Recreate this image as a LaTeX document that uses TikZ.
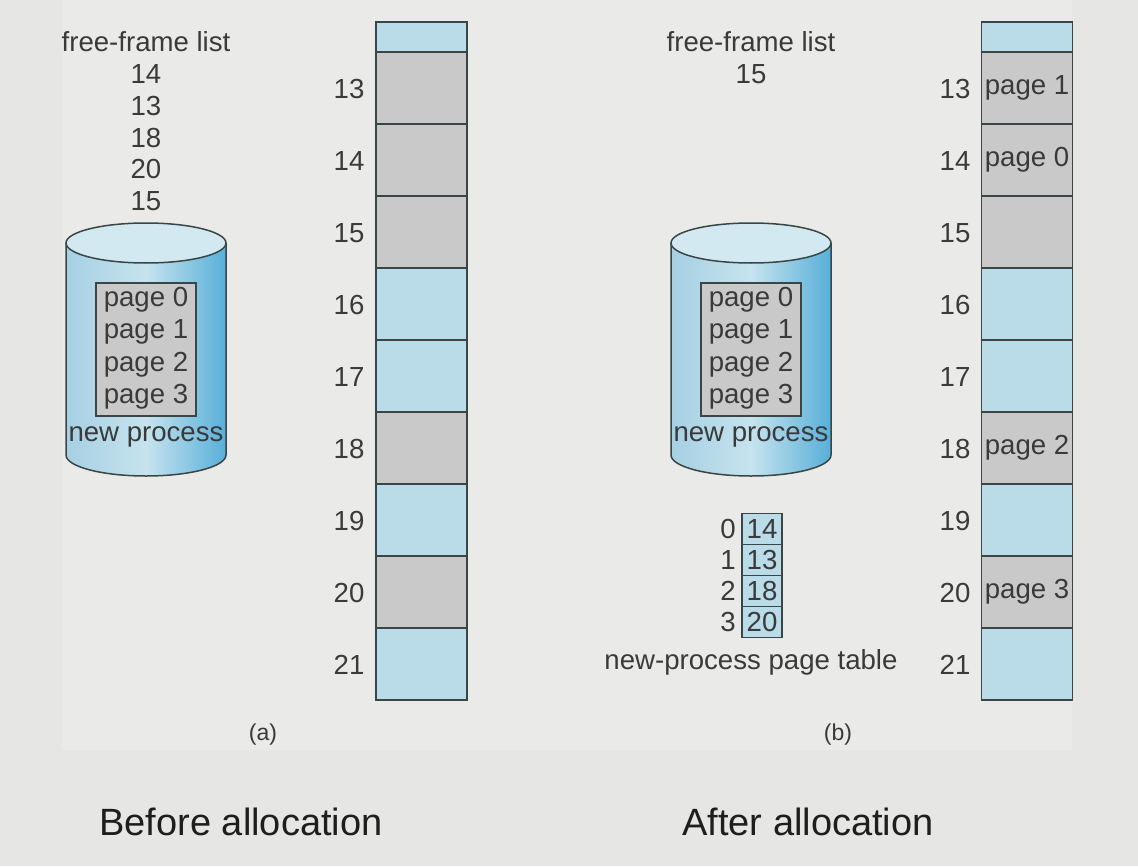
\documentclass[tikz,border=0pt]{standalone}
\usepackage{fontspec}
\setmainfont{Liberation Sans}
\begin{document}
\begin{tikzpicture}[x=0.5pt,y=-0.5pt,
  txt/.style={text=txtc,inner sep=0pt,font=\fontsize{13.8}{16}\selectfont},
  cellbase/.style={draw=edgec,line width=0.75pt,inner sep=0pt,minimum width=45.5pt},
  bluecell/.style={cellbase,fill=bluec},
  graycell/.style={cellbase,fill=grayc},
  topcell/.style={minimum height=15pt},
  framecell/.style={minimum height=36pt},
  ptcell/.style={draw=edgec,line width=0.75pt,fill=bluec,inner sep=0pt,minimum width=20pt,minimum height=15.5pt,text=txtc,font=\fontsize{13.8}{16}\selectfont},
  captxt/.style={text=capc,inner sep=0pt,font=\fontsize{19}{22}\selectfont},
  subtxt/.style={text=txtc,inner sep=0pt,font=\fontsize{11.5}{14}\selectfont},
  procbox/.style={draw=edgec,line width=0.75pt,fill=grayc,inner sep=0pt,minimum width=50pt,minimum height=66.5pt},
  cylline/.style={draw=edgec,line width=0.75pt}
]
\definecolor{bgc}{HTML}{E6E7E4}
\definecolor{panelc}{HTML}{EAEBE8}
\definecolor{bluec}{HTML}{B9DCE8}
\definecolor{grayc}{HTML}{C9C9C9}
\definecolor{edgec}{HTML}{3A4646}
\definecolor{txtc}{HTML}{3A3A3A}
\definecolor{capc}{HTML}{1E1E1E}
\definecolor{cylL}{HTML}{A6D0E3}
\definecolor{cylM}{HTML}{C6E3EE}
\definecolor{cylR}{HTML}{58AFD9}
\definecolor{cyltop}{HTML}{D3E9F1}

\useasboundingbox (0,0) rectangle (1138,866);
\fill[bgc] (0,0) rectangle (1138,866);
\fill[panelc] (62,0) rectangle (1072,750);

% ---------- (a) ----------
\node[txt] (ffa) at (146,42) {free-frame list};
\node[txt] (fa1) at (146,74) {14};
\node[txt] (fa2) at (146,106) {13};
\node[txt] (fa3) at (146,138) {18};
\node[txt] (fa4) at (146,169) {20};
\node[txt] (fa5) at (146,201) {15};

% cylinder a
\shade[left color=cylL,right color=cylR,middle color=cylM]
  (66,243) -- (66,455) arc[start angle=180,end angle=360,x radius=40pt,y radius=10.5pt] -- (226,243) -- cycle;
\draw[cylline] (66,243) -- (66,455) arc[start angle=180,end angle=360,x radius=40pt,y radius=10.5pt] -- (226,243);
\draw[cylline,fill=cyltop] (146,243) ellipse[x radius=40pt,y radius=10pt];
\node[procbox] (pba) at (146,349.5) {};
\node[txt] (pa0) at (146,300) {page 0};
\node[txt] (pa1) at (146,332) {page 1};
\node[txt] (pa2) at (146,365) {page 2};
\node[txt] (pa3) at (146,397) {page 3};
\node[txt] (npa) at (146,437) {new process};

% memory a
\node[bluecell,topcell] (ma0) at (421.5,37) {};
\foreach \n/\s in {13/graycell,14/graycell,15/graycell,16/bluecell,17/bluecell,18/graycell,19/bluecell,20/graycell,21/bluecell}{
  \node[\s,framecell] (ma\n) at (421.5,{88+72*(\n-13)}) {};
  \node[txt] (la\n) at (349,{89+72*(\n-13)}) {\n};
}
\node[subtxt] (suba) at (263,735) {(a)};

% ---------- (b) ----------
\node[txt] (ffb) at (751,42) {free-frame list};
\node[txt] (fb1) at (751,74) {15};

% cylinder b
\shade[left color=cylL,right color=cylR,middle color=cylM]
  (671,243) -- (671,455) arc[start angle=180,end angle=360,x radius=40pt,y radius=10.5pt] -- (831,243) -- cycle;
\draw[cylline] (671,243) -- (671,455) arc[start angle=180,end angle=360,x radius=40pt,y radius=10.5pt] -- (831,243);
\draw[cylline,fill=cyltop] (751,243) ellipse[x radius=40pt,y radius=10pt];
\node[procbox] (pbb) at (751,349.5) {};
\node[txt] (pb0) at (751,300) {page 0};
\node[txt] (pb1) at (751,332) {page 1};
\node[txt] (pb2) at (751,365) {page 2};
\node[txt] (pb3) at (751,397) {page 3};
\node[txt] (npb) at (751,437) {new process};

% page table
\node[ptcell] (pt0) at (762,529) {14};
\node[ptcell] (pt1) at (762,560) {13};
\node[ptcell] (pt2) at (762,591) {18};
\node[ptcell] (pt3) at (762,622) {20};
\node[txt] (pi0) at (728,529) {0};
\node[txt] (pi1) at (728,560) {1};
\node[txt] (pi2) at (728,591) {2};
\node[txt] (pi3) at (728,622) {3};
\node[txt] (ptl) at (751,662) {new-process page table};

% memory b
\node[bluecell,topcell] (mb0) at (1027,37) {};
\foreach \n/\s/\t in {13/graycell/page 1,14/graycell/page 0,15/graycell/,16/bluecell/,17/bluecell/,18/graycell/page 2,19/bluecell/,20/graycell/page 3,21/bluecell/}{
  \node[\s,framecell,txt,draw=edgec,minimum width=45.5pt,minimum height=36pt] (mb\n) at (1027,{88+72*(\n-13)}) {\t};
  \node[txt] (lb\n) at (955,{89+72*(\n-13)}) {\n};
}
\node[subtxt] (subb) at (838,735) {(b)};

% captions
\node[captxt] (capa) at (241,822) {Before allocation};
\node[captxt] (capb) at (808,822) {After allocation};
\end{tikzpicture}
\end{document}
